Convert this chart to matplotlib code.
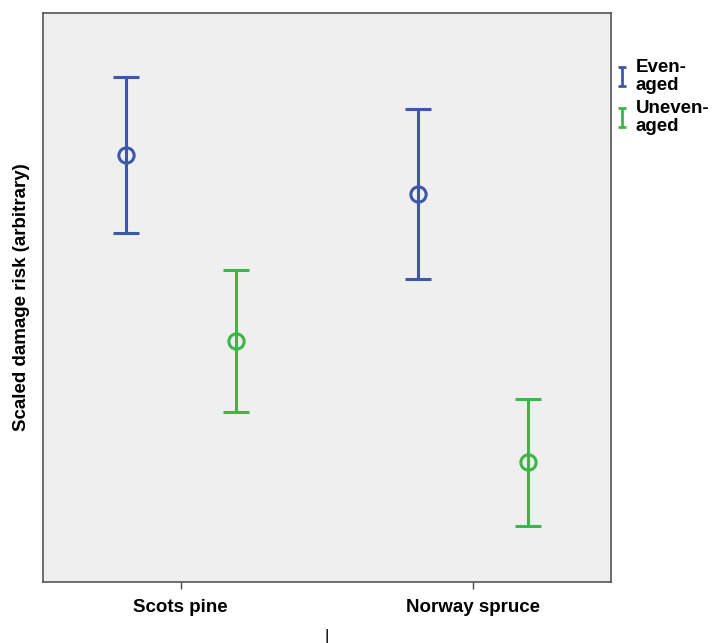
import numpy as np
import matplotlib
matplotlib.use('Agg')
import matplotlib.pyplot as plt

# species along the x axis, two stand types per species
species = ['Scots pine', 'Norway spruce']
groups = ['Even-\naged', 'Uneven-\naged']
colors = ['#3e58a8', '#3db54a']

# mean and interval bounds (arbitrary scale)
means = [[75.0, 68.2], [42.4, 21.1]]
lower = [[61.3, 53.3], [29.9, 9.8]]
upper = [[88.8, 83.1], [54.8, 32.2]]

plt.rcParams['font.family'] = ['Liberation Sans', 'DejaVu Sans']
plt.rcParams['font.weight'] = 'bold'

fig = plt.figure(figsize=(7.13, 6.43), dpi=100)
ax = fig.add_axes([0.0603, 0.0949, 0.857 - 0.0603, 0.9798 - 0.0949])
ax.set_facecolor('#efefef')

x = np.arange(len(species))
offsets = [-0.188, 0.188]
for i in range(len(groups)):
    m = np.array(means[i])
    err = [m - np.array(lower[i]), np.array(upper[i]) - m]
    ax.errorbar(x + offsets[i], m, yerr=err, fmt='o', color=colors[i],
                mfc='none', mec=colors[i], ms=11, mew=2.2,
                elinewidth=2.2, capsize=9.5, capthick=2.2)
    # proxy handle for the legend (error bar only)
    ax.errorbar([np.nan], [np.nan], yerr=[1], fmt='none', color=colors[i],
                elinewidth=2, capsize=3, capthick=2, label=groups[i])

ax.set_xlim(-0.47, 1.47)
ax.set_ylim(0, 100)
ax.set_xticks(x)
ax.set_xticklabels(species, fontsize=13.5, fontweight='bold')
ax.set_yticks([])
ax.tick_params(axis='x', length=5, width=1, color='#444444', pad=7.5)
ax.set_ylabel('Scaled damage risk (arbitrary)', fontsize=13.5, fontweight='bold', labelpad=9)
ax.set_xlabel('|', fontsize=12, labelpad=9)
for s in ax.spines.values():
    s.set_color('#555555')
    s.set_linewidth(1.2)

ax.legend(loc='upper left', bbox_to_anchor=(0.997, 0.932), frameon=False,
          handlelength=0.6, handletextpad=0.4, borderaxespad=0,
          labelspacing=0.3, prop={'size': 13.5, 'weight': 'bold'})
for t in ax.get_legend().get_texts():
    t.set_linespacing(1.1)

fig.savefig('out.png', dpi=100)
